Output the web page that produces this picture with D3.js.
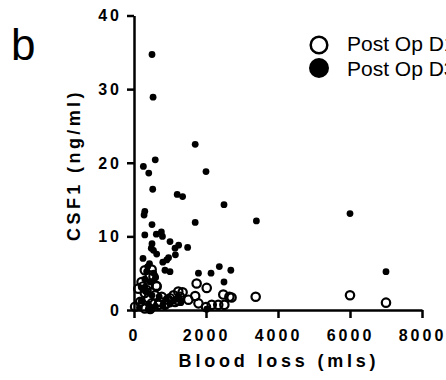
<!DOCTYPE html>
<html>
<head>
<meta charset="utf-8">
<script src="https://cdn.jsdelivr.net/npm/d3@7"></script>
<style>
  body { margin: 0; background: #fff; }
  svg { display: block; font-family: "Liberation Sans", Arial, sans-serif; }
</style>
</head>
<body>
<svg width="446" height="380"></svg>
<script>
// CSF1 vs blood loss, two post-op days

// Post Op D1 (open circles): [blood loss mls, CSF1 ng/ml]
var day1 = [
  [1740,3.6],[2020,3.0],[1700,1.9],[2480,2.1],[2650,1.8],[2710,1.7],[3380,1.8],
  [6000,2.0],[7000,1.0],[2340,0.7],[2510,0.7],[2160,0.7],[1790,0.9],[2000,0.4],
  [1510,1.4],[1350,2.4],[1230,2.5],[1100,2.0],[1230,1.3],[1000,1.6],[950,1.4],
  [1140,1.1],[1280,1.8],[860,0.7],[770,1.8],[630,3.2],[580,2.0],[490,5.5],
  [300,5.4],[440,4.7],[540,4.5],[210,3.8],[400,3.4],[120,2.9],[300,2.3],
  [250,3.2],[350,2.7],[170,1.1],[490,0.9],[680,0.7],[30,0.45],[300,0.2],
  [450,0.15],[620,3.3],[400,1.6],[720,1.1],[900,0.9]
];

// Post Op D3 (filled circles)
var day3 = [
  [500,34.7],[530,28.9],[590,20.4],[260,19.5],[410,18.6],[520,16.4],[1700,22.5],
  [2000,18.8],[1200,15.7],[1350,15.4],[2500,14.3],[300,13.4],[280,12.9],[500,11.6],
  [1700,11.9],[3400,12.1],[6000,13.1],[300,10.2],[620,10.3],[760,10.6],[790,10.0],
  [1000,9.3],[500,9.0],[480,8.4],[540,8.1],[1140,8.4],[1240,8.8],[1490,8.5],
  [1150,7.5],[630,7.6],[250,7.0],[960,7.1],[800,6.5],[1000,5.2],[7000,5.2],
  [1790,5.0],[2140,5.0],[2370,5.9],[2690,5.4],[2500,3.8],[380,5.9],[430,6.3],
  [350,5.2],[550,5.0],[300,4.2],[450,3.8],[600,4.4],[250,3.0],[350,2.5],[500,2.0],
  [700,1.8],[900,1.5],[1100,1.2],[1300,1.0],[200,1.2],[400,0.8],[600,0.5],
  [800,0.6],[2020,0.1],[150,0.3],[450,0.1],[1000,0.8],[1250,1.5],[910,6.8],[860,5.4]
];

var xTicks = [0, 2000, 4000, 6000, 8000];
var yTicks = [0, 10, 20, 30, 40];
var seriesNames = ["Post Op D1", "Post Op D3"];

var svg = d3.select("svg");

var x = d3.scaleLinear().domain([0, 8000]).range([134, 422]);
var y = d3.scaleLinear().domain([0, 40]).range([310, 15.5]);

// panel letter
svg.append("text")
  .attr("x", 11).attr("y", 60)
  .attr("font-size", 44)
  .text("b");

// y axis
var yAxis = svg.append("g")
  .attr("transform", "translate(134,0)")
  .call(d3.axisLeft(y).tickValues(yTicks).tickFormat(d3.format("d"))
    .tickSize(7).tickSizeOuter(0).tickPadding(5));

// x axis
var xAxis = svg.append("g")
  .attr("transform", "translate(0,310)")
  .call(d3.axisBottom(x).tickValues(xTicks).tickFormat(d3.format("d"))
    .tickSize(8).tickSizeOuter(0).tickPadding(12));

[yAxis, xAxis].forEach(function(a) {
  a.selectAll("path, line").attr("stroke", "#000").attr("stroke-width", 2.5);
  a.selectAll("text")
    .attr("fill", "#000")
    .attr("font-size", 16)
    .attr("font-weight", "bold")
    .attr("font-family", "Liberation Sans, Arial, sans-serif")
    .attr("letter-spacing", 3);
});
yAxis.selectAll("text").attr("dy", "0.34em");

// axis titles
svg.append("text")
  .attr("x", 279).attr("y", 367)
  .attr("text-anchor", "middle")
  .attr("font-size", 18).attr("font-weight", "bold")
  .attr("letter-spacing", 3.8)
  .text("Blood loss (mls)");

svg.append("text")
  .attr("transform", "translate(80,165) rotate(-90)")
  .attr("text-anchor", "middle")
  .attr("font-size", 18).attr("font-weight", "bold")
  .attr("letter-spacing", 3.4)
  .text("CSF1 (ng/ml)");

// points
svg.append("g").selectAll("circle")
  .data(day3)
  .enter().append("circle")
  .attr("cx", function(d) { return x(d[0]); })
  .attr("cy", function(d) { return y(d[1]); })
  .attr("r", 3.4)
  .attr("fill", "#000");

svg.append("g").selectAll("circle")
  .data(day1)
  .enter().append("circle")
  .attr("cx", function(d) { return x(d[0]); })
  .attr("cy", function(d) { return y(d[1]); })
  .attr("r", 4.2)
  .attr("fill", "none")
  .attr("stroke", "#000")
  .attr("stroke-width", 2.2);

// legend
var legend = svg.append("g");
legend.append("circle")
  .attr("cx", 319).attr("cy", 45).attr("r", 8.3)
  .attr("fill", "none").attr("stroke", "#000").attr("stroke-width", 2.5);
legend.append("circle")
  .attr("cx", 319).attr("cy", 68).attr("r", 10)
  .attr("fill", "#000");
legend.selectAll("text")
  .data(seriesNames)
  .enter().append("text")
  .attr("x", 347)
  .attr("y", function(d, i) { return 51 + i * 24.5; })
  .attr("font-size", 21)
  .text(function(d) { return d; });
</script>
</body>
</html>
